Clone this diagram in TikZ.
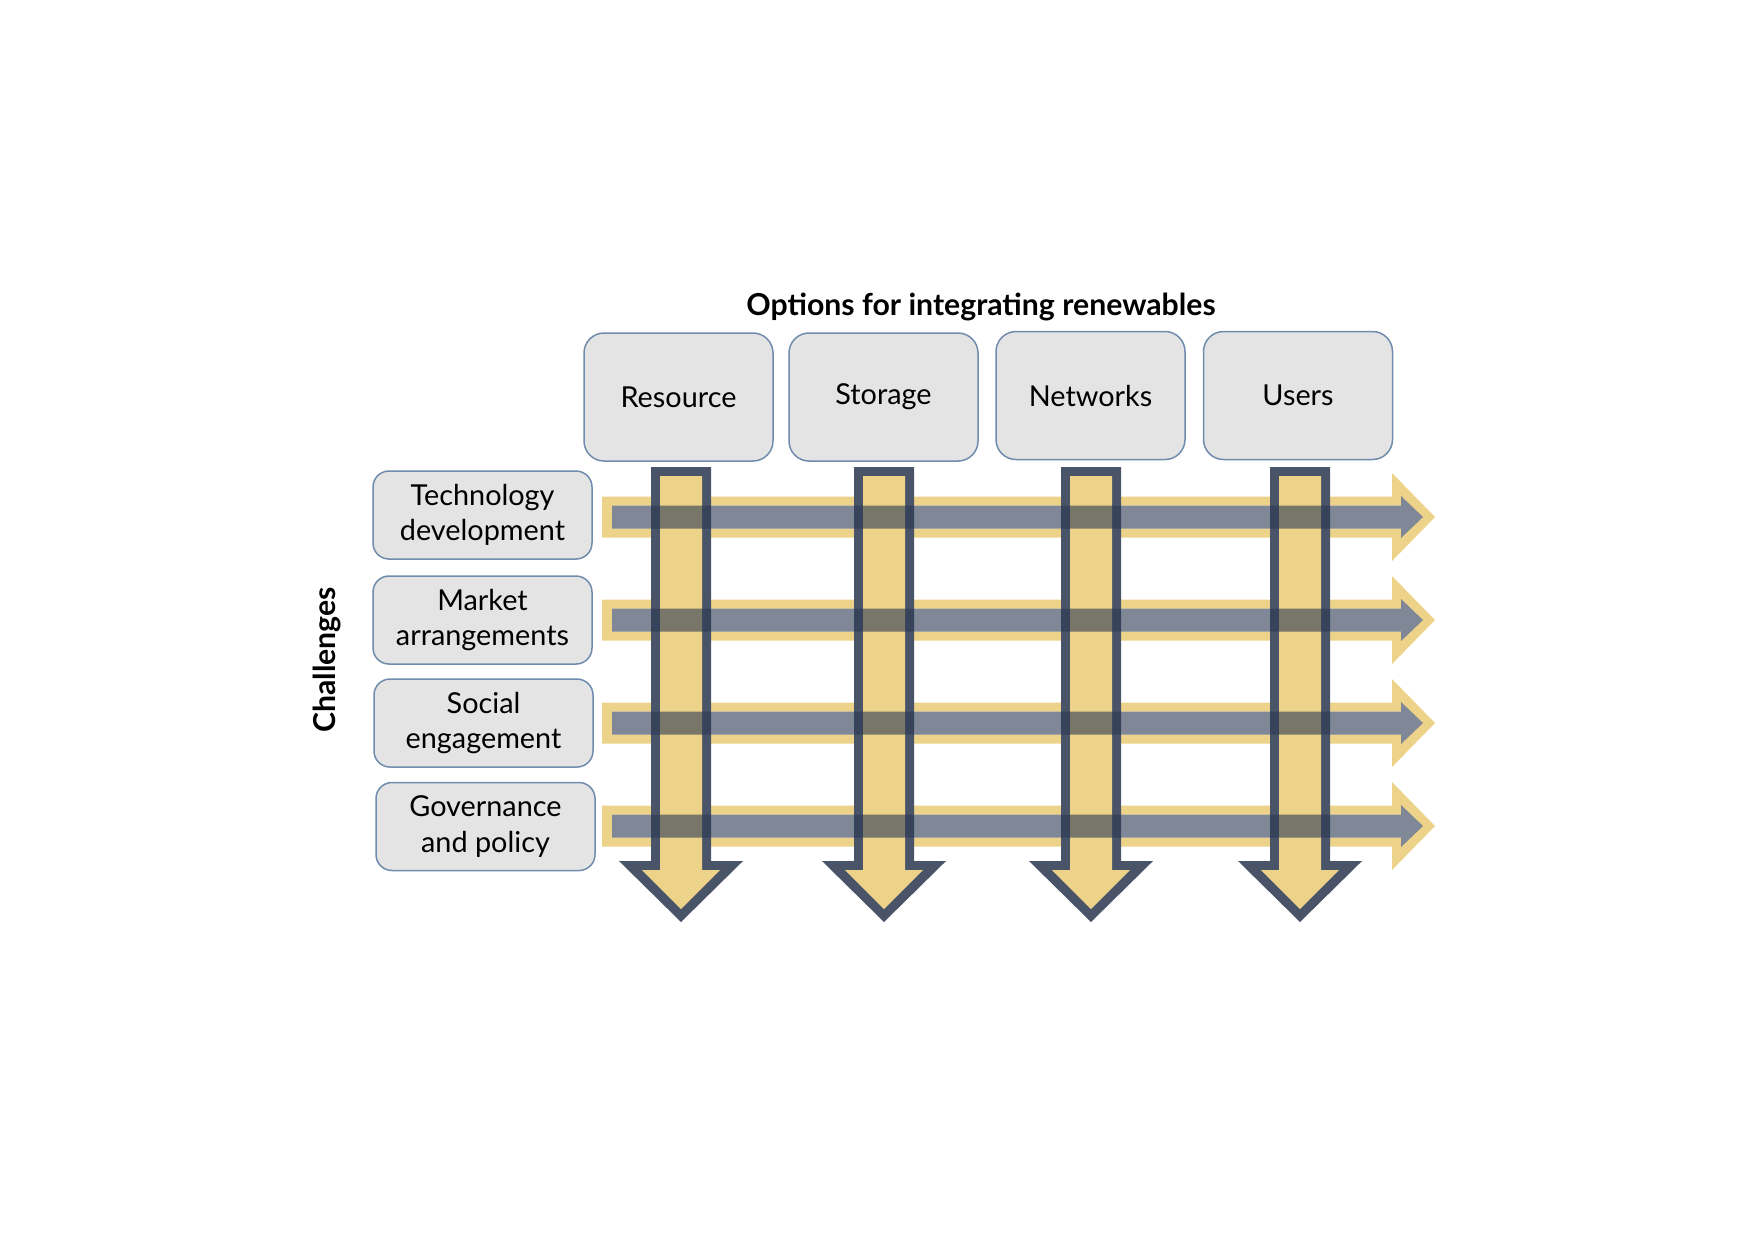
\documentclass[tikz,border=0pt]{standalone}
\usepackage{fontspec}
\setmainfont{Lato}
\definecolor{boxfill}{RGB}{228,228,228}
\definecolor{boxline}{RGB}{112,140,172}
\definecolor{sand}{RGB}{237,211,138}
\definecolor{slate}{RGB}{74,84,104}
\definecolor{navy}{RGB}{43,57,83}
\tikzset{
  option/.style={draw=boxline, line width=0.15mm, fill=boxfill, rounded corners=2mm,
    minimum width=18.9mm, minimum height=12.8mm, inner sep=0pt, font=\fontsize{8.2}{10}\selectfont},
  challenge/.style={draw=boxline, line width=0.15mm, fill=boxfill, rounded corners=1.6mm,
    minimum width=21.9mm, minimum height=8.8mm, inner sep=0pt, align=center,
    font=\fontsize{8.2}{10}\selectfont},
  heading/.style={font=\fontsize{8.6}{10}\selectfont\bfseries}
}
% down arrow under an option, #1 = centre x
\newcommand{\optarrow}[1]{%
  \fill[slate] (#1-30,467) -- (#1+30,467) -- (#1+30,861) -- (#1+62,861) -- (#1,922)
    -- (#1-62,861) -- (#1-30,861) -- cycle;
  \fill[sand] (#1-21,476) -- (#1+21,476) -- (#1+21,870) -- (#1+39,870) -- (#1,909)
    -- (#1-39,870) -- (#1-21,870) -- cycle;}
% right arrow after a challenge, #1 = centre y: yellow rim, then the bar on top
\newcommand{\challband}[1]{%
  \fill[sand, even odd rule] (602,#1-20.5) -- (1392,#1-20.5) -- (1392,#1-44) -- (1435,#1)
    -- (1392,#1+44) -- (1392,#1+20.5) -- (602,#1+20.5) -- cycle
    (612,#1-11.5) -- (1401,#1-11.5) -- (1401,#1-21) -- (1423,#1)
    -- (1401,#1+21) -- (1401,#1+11.5) -- (612,#1+11.5) -- cycle;}
\newcommand{\challbar}[1]{%
  \fill[navy, opacity=0.6] (612,#1-11.5) -- (1401,#1-11.5) -- (1401,#1-21) -- (1423,#1)
    -- (1401,#1+21) -- (1401,#1+11.5) -- (612,#1+11.5) -- cycle;}

\begin{document}
\begin{tikzpicture}[x=0.1mm, y=-0.1mm]
\useasboundingbox (0,0) rectangle (1754,1239);

\node[heading] (title) at (981,307) {Options for integrating renewables};
\node[heading, rotate=90] (chal) at (327,660) {Challenges};

\node[option] (res) at (678.5,397) {Resource};
\node[option] (sto) at (883.5,397) {Storage};
\node[option] (net) at (1090.5,395.5) {Networks};
\node[option] (usr) at (1298,395.5) {Users};

\node[challenge] (tech) at (482.5,515) {Technology\\development};
\node[challenge] (mkt) at (482.5,620) {Market\\arrangements};
\node[challenge] (soc) at (483.5,723) {Social\\engagement};
\node[challenge] (gov) at (485.5,826.5) {Governance\\and policy};

\challband{517}
\challband{620}
\challband{723}
\challband{826}

\optarrow{681}
\optarrow{884}
\optarrow{1091}
\optarrow{1300}

\challbar{517}
\challbar{620}
\challbar{723}
\challbar{826}
\end{tikzpicture}
\end{document}
